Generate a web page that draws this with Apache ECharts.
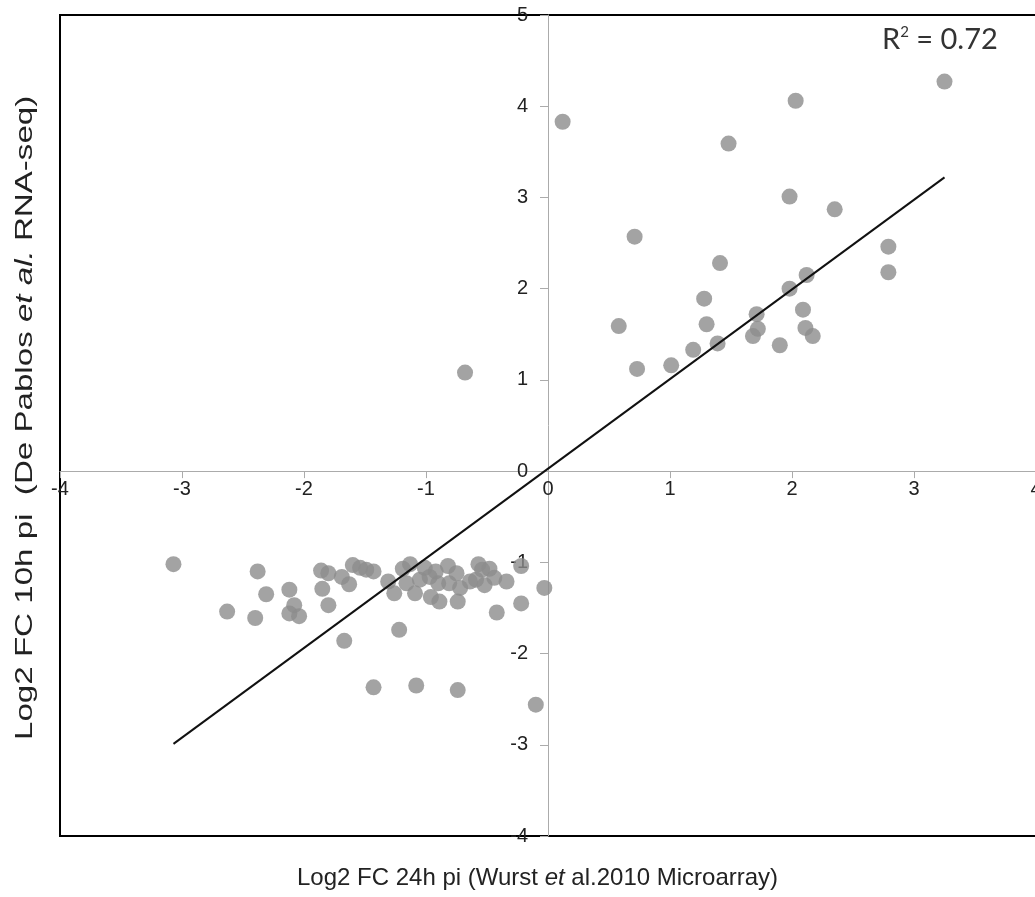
<!DOCTYPE html>
<html>
<head>
<meta charset="utf-8">
<script src="https://cdn.jsdelivr.net/npm/echarts@6/dist/echarts.min.js"></script>
<style>
  html, body { margin: 0; padding: 0; background: #fff; }
  #chart { width: 1035px; height: 897px; }
</style>
</head>
<body>
<div id="chart"></div>
<script>
// genes induced in both data sets
var upX = [0.12, 2.03, 3.25, 1.48, 1.98, 2.35, 0.71, 1.41, 2.79, 2.79, 2.12, 1.98, 1.28,
           0.58, 1.30, 1.71, 2.09, 1.72, 1.68, 2.11, 2.17, 1.90, 1.39, 1.19, 1.01, 0.73, -0.68];
var upY = [3.83, 4.06, 4.27, 3.59, 3.01, 2.87, 2.57, 2.28, 2.46, 2.18, 2.15, 2.00, 1.89,
           1.59, 1.61, 1.72, 1.77, 1.56, 1.48, 1.57, 1.48, 1.38, 1.40, 1.33, 1.16, 1.12, 1.08];

// genes repressed
var downX = [-3.07, -2.38, -2.31, -2.63, -2.40, -2.12, -2.08, -2.12, -2.04, -1.86, -1.80, -1.85,
             -1.80, -1.69, -1.63, -1.67, -1.60, -1.54, -1.49, -1.43, -1.31, -1.26, -1.19, -1.13,
             -1.09, -1.05, -1.01, -0.97, -0.96, -0.89, -0.90, -0.82, -0.81, -0.74, -0.75, -0.57,
             -0.59, -0.52, -0.48, -0.44, -0.34, -0.22, -0.22, -0.42, -0.03, -0.72, -0.64, -0.54,
             -0.92, -1.16, -1.22, -1.43, -1.08, -0.74, -0.10];
var downY = [-1.02, -1.10, -1.35, -1.54, -1.61, -1.30, -1.47, -1.56, -1.59, -1.09, -1.12, -1.29,
             -1.47, -1.16, -1.24, -1.86, -1.03, -1.06, -1.08, -1.10, -1.21, -1.34, -1.07, -1.02,
             -1.34, -1.19, -1.06, -1.16, -1.38, -1.43, -1.23, -1.04, -1.23, -1.43, -1.12, -1.02,
             -1.19, -1.25, -1.07, -1.17, -1.21, -1.04, -1.45, -1.55, -1.28, -1.28, -1.21, -1.08,
             -1.10, -1.23, -1.74, -2.37, -2.35, -2.40, -2.56];

// linear fit (R2 = 0.72)
var fitX = [-3.07, 3.25];
var fitY = [-2.99, 3.22];

var xTicks = [-4, -3, -2, -1, 0, 1, 2, 3, 4];
var yTicks = [-4, -3, -2, -1, 0, 1, 2, 3, 4, 5];

var points = upX.map(function (x, i) { return [x, upY[i]]; })
  .concat(downX.map(function (x, i) { return [x, downY[i]]; }));
var fitLine = fitX.map(function (x, i) { return [x, fitY[i]]; });

// plot box, the axes cross at 0 inside it
var gridLeft = 60, gridTop = 15, gridW = 976, gridH = 821;
var xMin = xTicks[0], xMax = xTicks[xTicks.length - 1];
var yMin = yTicks[0], yMax = yTicks[yTicks.length - 1];
var yAxisShift = -gridW * (0 - xMin) / (xMax - xMin);
var xAxisShift = -gridH * (0 - yMin) / (yMax - yMin);

var myChart = echarts.init(document.getElementById('chart'));

var axisFont = { fontFamily: 'Liberation Sans', fontSize: 20, color: '#222' };

var option = {
  animation: false,
  backgroundColor: '#fff',
  grid: {
    left: gridLeft, top: gridTop, width: gridW, height: gridH,
    outerBoundsMode: 'none',
    show: true, borderColor: '#000', borderWidth: 2, backgroundColor: 'transparent'
  },
  xAxis: {
    type: 'value',
    min: xMin, max: xMax, interval: 1,
    offset: xAxisShift,
    splitLine: { show: false },
    axisLine: { onZero: false, lineStyle: { color: '#ababab', width: 1 } },
    axisTick: { show: true, length: 7, lineStyle: { color: '#ababab' } },
    axisLabel: Object.assign({ margin: 8, showMinLabel: true, showMaxLabel: true }, axisFont)
  },
  yAxis: {
    type: 'value',
    min: yMin, max: yMax, interval: 1,
    offset: yAxisShift,
    splitLine: { show: false },
    axisLine: { onZero: false, lineStyle: { color: '#ababab', width: 1 } },
    axisTick: { show: true, length: 8, lineStyle: { color: '#ababab' } },
    axisLabel: Object.assign({ margin: 20, showMinLabel: true, showMaxLabel: true }, axisFont)
  },
  series: [
    {
      type: 'scatter',
      data: points,
      symbol: 'circle',
      symbolSize: 16,
      itemStyle: { color: '#8c8c8c' },
      z: 3
    },
    {
      type: 'line',
      data: fitLine,
      symbol: 'none',
      lineStyle: { color: '#111', width: 2 },
      z: 4
    }
  ],
  graphic: [
    {
      type: 'text',
      left: 297, top: 866,
      style: {
        text: '{n|Log2 FC 24h pi (Wurst }{i|et}{n| al.2010 Microarray)}',
        rich: {
          n: { fontFamily: 'Liberation Sans', fontSize: 24, fill: '#222' },
          i: { fontFamily: 'Liberation Sans', fontSize: 24, fontStyle: 'italic', fill: '#222' }
        }
      }
    },
    {
      type: 'text',
      x: 13, y: 740,
      rotation: Math.PI / 2,
      scaleX: 1.38,
      style: {
        text: '{n|Log2 FC 10h pi  (De Pablos }{i|et al.}{n| RNA-seq)}',
        rich: {
          n: { fontFamily: 'Liberation Sans', fontSize: 24, fill: '#222' },
          i: { fontFamily: 'Liberation Sans', fontSize: 24, fontStyle: 'italic', fill: '#222' }
        }
      }
    },
    {
      type: 'text',
      left: 882, top: 25,
      style: {
        text: '{n|R}{s|2}{n| = 0.72}',
        rich: {
          n: { fontFamily: 'Lato', fontSize: 29, fill: '#333', verticalAlign: 'bottom' },
          s: { fontFamily: 'Lato', fontSize: 15, fill: '#333', verticalAlign: 'top', padding: [0, 0, 12, 0] }
        }
      }
    }
  ]
};

myChart.setOption(option);
</script>
</body>
</html>
